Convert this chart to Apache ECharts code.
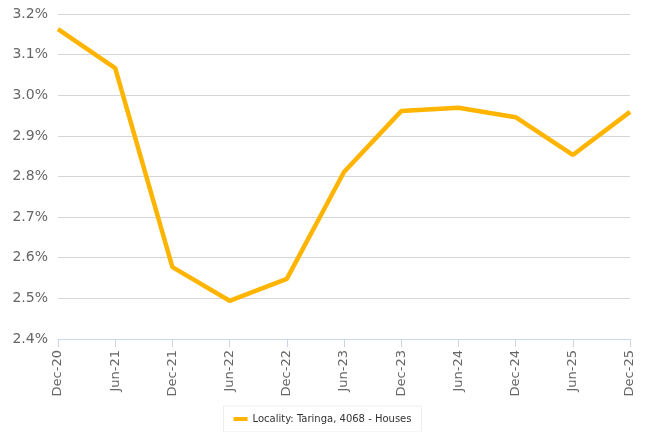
<!DOCTYPE html>
<html>
<head>
<meta charset="utf-8">
<script src="https://cdn.jsdelivr.net/npm/echarts@6/dist/echarts.min.js"></script>
<style>
  html, body { margin: 0; padding: 0; background: #fff; }
  #chart { width: 645px; height: 432px; }
</style>
</head>
<body>
<div id="chart"></div>
<script>
var categories = ['Dec-20', 'Jun-21', 'Dec-21', 'Jun-22', 'Dec-22', 'Jun-23', 'Dec-23', 'Jun-24', 'Dec-24', 'Jun-25', 'Dec-25'];
var seriesName = 'Locality: Taringa, 4068 - Houses';
// yield values in percent
var values = [3.163, 3.067, 2.577, 2.494, 2.548, 2.811, 2.961, 2.969, 2.946, 2.853, 2.959];

var chart = echarts.init(document.getElementById('chart'));
chart.setOption({
  animation: false,
  grid: { left: 58, right: 15, top: 14, bottom: 93 },
  legend: {
    bottom: 0,
    left: 'center',
    data: [seriesName],
    icon: 'rect',
    itemWidth: 14,
    itemHeight: 4,
    itemGap: 5,
    padding: [8, 10, 8, 10],
    borderColor: '#eeeeee',
    borderWidth: 1,
    textStyle: { color: '#333', fontSize: 10, fontFamily: 'DejaVu Sans' }
  },
  xAxis: {
    type: 'category',
    data: categories,
    boundaryGap: false,
    axisLine: { lineStyle: { color: '#ccd6eb' } },
    axisTick: { show: true, length: 8, alignWithLabel: true, lineStyle: { color: '#ccd6eb' } },
    axisLabel: { rotate: 90, color: '#666', fontSize: 13, fontFamily: 'DejaVu Sans', margin: 11 }
  },
  yAxis: {
    type: 'value',
    min: 2.4,
    max: 3.2,
    interval: 0.1,
    axisLine: { show: false },
    axisTick: { show: false },
    splitLine: { lineStyle: { color: '#d6d6d6' } },
    axisLabel: {
      color: '#666',
      fontSize: 14,
      fontFamily: 'DejaVu Sans',
      margin: 10,
      formatter: function (v) { return v.toFixed(1) + '%'; }
    }
  },
  series: [{
    name: seriesName,
    type: 'line',
    data: values,
    symbol: 'none',
    lineStyle: { color: '#ffb400', width: 4.5 },
    itemStyle: { color: '#ffb400' }
  }]
});
</script>
</body>
</html>
